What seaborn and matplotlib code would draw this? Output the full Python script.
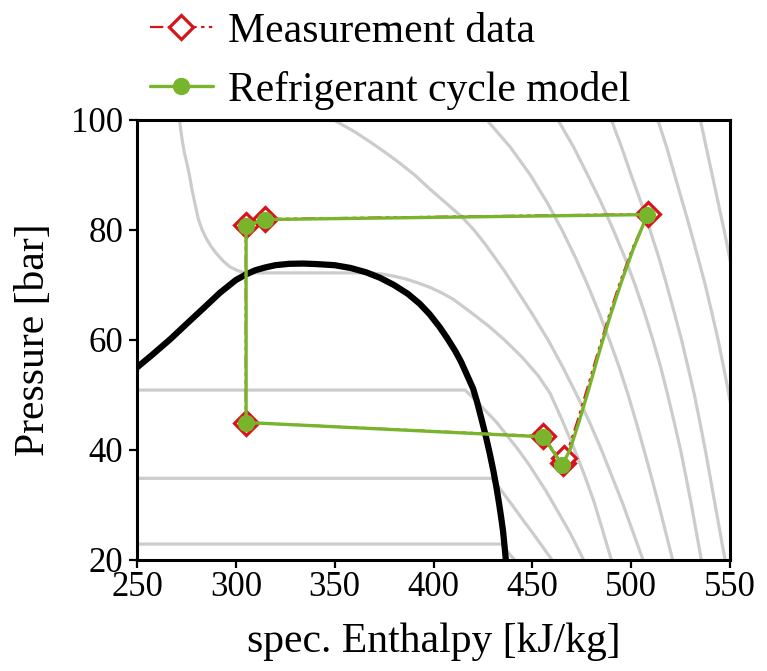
import matplotlib
matplotlib.use("Agg")
import matplotlib.pyplot as plt
import seaborn as sns
from matplotlib.lines import Line2D

sns.set_theme(style="ticks")
plt.rcParams['font.family'] = ['Liberation Serif', 'DejaVu Serif']
plt.rcParams.update({
    "text.color": "black", "axes.labelcolor": "black",
    "xtick.color": "black", "ytick.color": "black", "axes.edgecolor": "black",
})

# --- axes ---
x_ticks = [250, 300, 350, 400, 450, 500, 550]
y_ticks = [20, 40, 60, 80, 100]
x_label = "spec. Enthalpy [kJ/kg]"
y_label = "Pressure [bar]"

# --- CO2 saturation dome (h in kJ/kg, p in bar) ---
dome_h = [250, 258, 267, 275, 284, 292, 300, 305, 310, 315, 320, 327, 334, 341, 350, 358, 366,
          373, 380, 387, 393, 398, 403, 407, 411, 414, 417, 420, 422, 424.3, 426.6, 428.5, 430.3,
          431.8, 433.2, 434.2, 435.2, 436.0, 436.6]
dome_p = [55.0, 57.4, 60.2, 62.9, 65.9, 68.6, 70.9, 71.9, 72.7, 73.2, 73.6, 73.85, 73.9, 73.8,
          73.6, 73.1, 72.3, 71.3, 70.0, 68.4, 66.6, 64.7, 62.4, 60.3, 58.0, 56.0, 53.6, 51.2,
          48.8, 45.6, 42.3, 39.3, 36.2, 33.3, 30.2, 27.8, 25.2, 22.3, 20.0]

# --- isotherms (grey), -15 °C ... 120 °C in 15 K steps ---
iso_m15_h = [240, 434.5, 437.5, 441]
iso_m15_p = [22.9, 22.9, 21.5, 20.0]

iso_0_h = [240, 429.5, 435, 440, 445, 450, 455, 460]
iso_0_p = [34.85, 34.85, 32.3, 29.9, 27.4, 25.0, 22.5, 20.0]

iso_15_h = [240, 416, 420, 424, 428, 432, 437.5, 443, 448, 452.5, 457, 461, 465, 469, 472.5, 476]
iso_15_p = [50.9, 50.9, 49.5, 48.0, 46.5, 45.0, 42.5, 40.0, 37.5, 35.0, 32.5, 30.0, 27.5, 25.0, 22.5, 20.0]

iso_30_h = [271.5, 272.2, 273, 274, 275, 276.5, 278, 279.5, 281, 283, 285, 287.5, 290, 293.5,
            297, 301, 305, 368, 374, 380, 386, 392, 398, 404, 410, 419, 428, 436, 445, 453,
            459, 465, 470.5, 476, 481, 485.5, 490]
iso_30_p = [100, 98, 96, 94, 92.5, 90, 87, 84.5, 82, 80, 78.5, 77, 75.8, 74.4, 73.3, 72.6,
            72.2, 72.2, 72.0, 71.6, 71.1, 70.4, 69.6, 68.6, 67.4, 65.0, 62.5, 60.0, 56.8, 53.5,
            50.3, 45.5, 40.8, 35.8, 30.8, 25.5, 20.0]

iso_45_h = [349.5, 359.5, 368, 376, 383.5, 390.5, 398, 406, 414, 420.5, 426, 431, 436, 440.5,
            449.5, 458, 465.5, 472.5, 479, 485, 490.5, 496, 501, 506]
iso_45_p = [100, 98, 96, 94, 92, 90, 87.5, 85, 82.5, 80, 77.5, 75, 72.5, 70,
            65, 60, 55, 50, 45, 40, 35, 30, 25, 20]

iso_p = [100, 95, 90, 85, 80, 75, 70, 65, 60, 55, 50, 45, 40, 35, 30, 25, 20]
iso_60_h = [427, 439, 449, 457.5, 465, 471.8, 478, 483.7, 489, 494, 498.5, 502.6, 506.5,
            510.3, 514, 517.5, 521]
iso_75_h = [463, 471, 478, 484.8, 491, 496.8, 502, 506.7, 511, 515, 518.5, 521.8, 525,
            527.8, 530.5, 533, 535.5]
iso_90_h = [490, 495.2, 500, 505, 509.5, 514, 518, 521.8, 525.5, 528.8, 532, 534.8, 537.5,
            540, 542.5, 545, 547.5]
iso_105_h = [513.5, 518, 522, 526, 530, 533.8, 537.5, 540.8, 544, 546.8, 549.5, 552, 554.5,
             556.8, 559, 561, 563]
iso_120_h = [535, 538, 541, 544, 547, 549.8, 552.5, 555, 557.5, 559.8, 562, 564, 566,
             568, 570, 572, 574]

# --- cycle: measurement (states marked, compression path unmarked) ---
meas_label = "Measurement data"
meas_h = [508.6, 314.6, 305.0, 305.0, 455.5, 465.3, 465.8, 468.5, 473.0, 478.0, 483.5, 489.0,
          494.5, 500.8, 508.6]
meas_p = [82.9, 82.0, 80.9, 45.0, 42.5, 37.6, 38.6, 40.5, 45.5, 51.5, 58.2, 64.7, 70.7, 76.8, 82.9]
meas_states = [0, 1, 2, 3, 4, 5, 6]

# --- cycle: model ---
model_label = "Refrigerant cycle model"
model_h = [508.2, 314.6, 305.2, 305.2, 455.5, 465.2, 469.0, 473.5, 478.5, 484.0, 489.5, 495.0,
           501.0, 508.2]
model_p = [82.8, 81.9, 80.8, 45.0, 42.4, 37.3, 40.0, 45.0, 51.0, 58.0, 64.5, 70.5, 76.5, 82.8]
model_states = [0, 1, 2, 3, 4, 5]

red = "#d7141a"
green = "#79b52c"
grey = "#cccccc"
meas_ls = (0, (6, 2, 1.5, 2, 1.5, 2))

fig = plt.figure(figsize=(7.67, 6.71), dpi=100)
ax = fig.add_axes([137 / 767, 1 - 560 / 671, 593 / 767, 440 / 671])

isotherms = [
    (iso_m15_h, iso_m15_p), (iso_0_h, iso_0_p), (iso_15_h, iso_15_p),
    (iso_30_h, iso_30_p), (iso_45_h, iso_45_p),
    (iso_60_h, iso_p), (iso_75_h, iso_p), (iso_90_h, iso_p),
    (iso_105_h, iso_p), (iso_120_h, iso_p),
]
for h, p in isotherms:
    sns.lineplot(x=h, y=p, sort=False, estimator=None, color=grey, lw=2.3,
                 ax=ax, zorder=1, legend=False)

sns.lineplot(x=dome_h, y=dome_p, sort=False, estimator=None, color="black",
             lw=4.5, ax=ax, zorder=2, legend=False)

sns.lineplot(x=meas_h, y=meas_p, sort=False, estimator=None, color=red, lw=1.6,
             linestyle=meas_ls, marker="D", markevery=meas_states, ms=12.5,
             mfc="white", mec=red, mew=2.3, ax=ax, zorder=3, legend=False)

sns.lineplot(x=model_h, y=model_p, sort=False, estimator=None, color=green, lw=2.4,
             marker="o", markevery=model_states, ms=11.5, mfc=green, mec=green,
             ax=ax, zorder=4, legend=False)

ax.set_xlim(250, 550)
ax.set_ylim(20, 100)
ax.set_xticks(x_ticks)
ax.set_yticks(y_ticks)
ax.set_xlabel(x_label, fontsize=30, labelpad=13)
ax.set_ylabel(y_label, fontsize=30, labelpad=13)
ax.tick_params(direction="out", length=6, width=1.6, labelsize=25, colors="black")
ax.tick_params(axis="x", pad=2)
ax.tick_params(axis="y", pad=4)
for s in ax.spines.values():
    s.set_linewidth(2.2)
    s.set_color("black")

handles = [
    Line2D([0], [0], color=red, lw=1.6, linestyle=meas_ls, marker="D", ms=12.5,
           mfc="white", mec=red, mew=2.3),
    Line2D([0], [0], color=green, lw=2.4, marker="o", ms=11.5, mfc=green, mec=green),
]
fig.legend(handles, [meas_label, model_label], loc="upper left",
           bbox_to_anchor=(150 / 767, 1 - 12 / 671), frameon=False, fontsize=30,
           handlelength=1.5, handletextpad=0.36, labelspacing=0.48,
           borderpad=0, borderaxespad=0)

fig.savefig("out.png", dpi=100)
